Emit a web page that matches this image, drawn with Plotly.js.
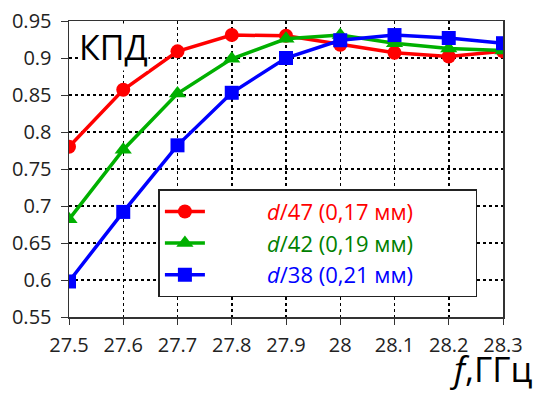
<!DOCTYPE html>
<html><head><meta charset="utf-8">
<script src="https://cdn.plot.ly/plotly-3.0.1.min.js"></script>
<style>html,body{margin:0;padding:0;background:#fff}</style>
</head><body>
<div id="chart" style="width:541px;height:394px"></div>
<script>
const freq = [27.5, 27.6, 27.7, 27.8, 27.9, 28.0, 28.1, 28.2, 28.3];
const effD47 = [0.780, 0.857, 0.909, 0.931, 0.930, 0.918, 0.907, 0.902, 0.909];
const effD42 = [0.682, 0.776, 0.852, 0.899, 0.926, 0.931, 0.920, 0.913, 0.910];
const effD38 = [0.598, 0.692, 0.782, 0.853, 0.900, 0.924, 0.931, 0.927, 0.920];
const xTicks = [27.5, 27.6, 27.7, 27.8, 27.9, 28, 28.1, 28.2, 28.3];
const xTickLabels = ['27.5','27.6','27.7','27.8','27.9','28','28.1','28.2','28.3'];
const yTicks = [0.55,0.6,0.65,0.7,0.75,0.8,0.85,0.9,0.95];
const yTickLabels = ['0.55','0.6','0.65','0.7','0.75','0.8','0.85','0.9','0.95'];
const pad = '\u00a0'.repeat(10);
const tail = '\u00a0'.repeat(10);
const names = [
  pad + '<span style="color:#ff0000"><i>d</i>/47 (0,17 мм)</span>' + tail,
  pad + '<span style="color:#008000"><i>d</i>/42 (0,19 мм)</span>' + tail,
  pad + '<span style="color:#0000ff"><i>d</i>/38 (0,21 мм)</span>' + tail
];
const traces = [
  {x: freq, y: effD47, name: names[0], legendgroup:'a', mode:'lines+markers', line:{color:'#ff0000', width:3.5}, marker:{symbol:'circle', size:14, color:'#ff0000'}},
  {x: freq, y: effD42, name: names[1], legendgroup:'b', mode:'lines+markers', line:{color:'#00b000', width:3.5}, marker:{symbol:'triangle-up', size:15, color:'#00b000'}},
  {x: freq, y: effD38, name: names[2], legendgroup:'c', mode:'lines+markers', line:{color:'#0000ff', width:3.5}, marker:{symbol:'square', size:14, color:'#0000ff'}}
];
const layout = {
  width:541, height:394,
  margin:{l:69, r:38, t:21, b:77},
  paper_bgcolor:'#fff', plot_bgcolor:'#fff',
  font:{family:'Open Sans, sans-serif', size:20, color:'#222'},
  showlegend:true,
  legend:{x:0.206, y:0.432, xanchor:'left', yanchor:'top', bgcolor:'#fff', bordercolor:'#222', borderwidth:1.5,
          font:{size:22, family:'Open Sans, sans-serif'}, tracegroupgap:0, itemwidth:40},
  xaxis:{range:[27.5,28.3], tickvals:xTicks, ticktext:xTickLabels, showgrid:true, gridcolor:'#000', griddash:'3px,3px', gridwidth:1.5,
         showline:true, mirror:true, linecolor:'#333', linewidth:1.5, ticks:'outside', ticklen:6, tickcolor:'#333', zeroline:false,
         ticklabelstandoff:3, tickfont:{size:20, color:'#222'}},
  yaxis:{range:[0.55,0.95], tickvals:yTicks, ticktext:yTickLabels, showgrid:true, gridcolor:'#000', griddash:'3px,3px', gridwidth:1.5,
         showline:true, mirror:true, linecolor:'#333', linewidth:1.5, ticks:'outside', ticklen:7, tickcolor:'#333', zeroline:false,
         ticklabelstandoff:5, tickfont:{size:20, color:'#222'}},
  annotations:[
    {text:'КПД', xref:'paper', yref:'paper', x:0.02, y:0.992, xanchor:'left', yanchor:'top', showarrow:false,
     font:{size:34, color:'#000', family:'Open Sans, sans-serif'}, bgcolor:'#fff', borderpad:0},
    {text:'<i>f</i>,ГГц', xref:'paper', yref:'paper', x:1.068, y:-0.258, xanchor:'right', yanchor:'bottom', showarrow:false,
     font:{size:35, color:'#000', family:'Open Sans, sans-serif'}, borderpad:0}
  ]
};
Plotly.newPlot('chart', traces, layout, {displayModeBar:false, staticPlot:true});
</script>
</body></html>
